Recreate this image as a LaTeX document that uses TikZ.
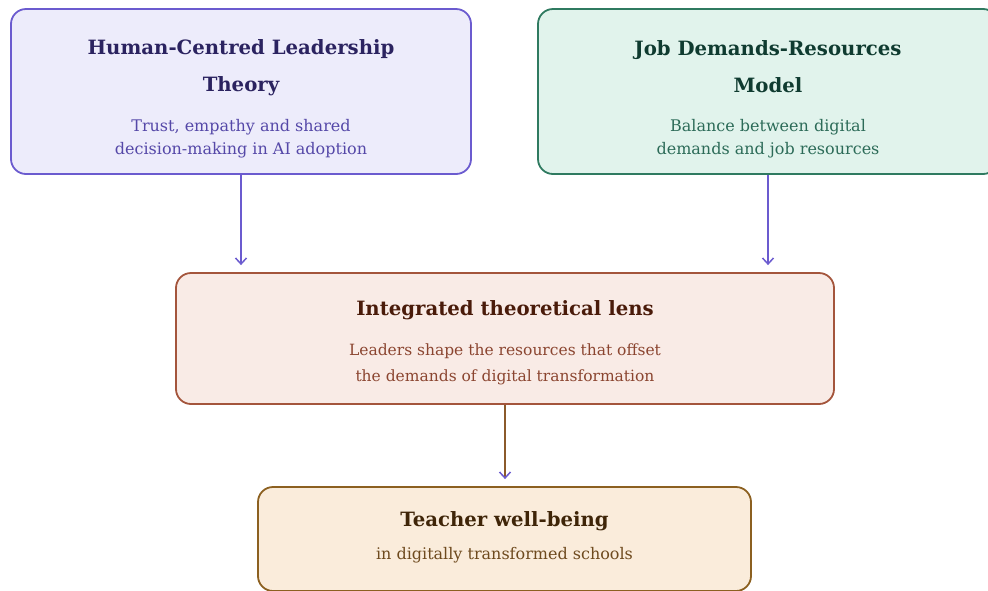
\documentclass[tikz,border=0pt]{standalone}
\usepackage{fontspec}
\setmainfont{DejaVu Serif}
\usetikzlibrary{arrows.meta}
\definecolor{hcBorder}{HTML}{6B5BCF}
\definecolor{hcFill}{HTML}{EDECFB}
\definecolor{hcTitle}{HTML}{2B2360}
\definecolor{hcSub}{HTML}{5548A8}
\definecolor{jdBorder}{HTML}{2F7A60}
\definecolor{jdFill}{HTML}{E1F3EC}
\definecolor{jdTitle}{HTML}{0F3B30}
\definecolor{jdSub}{HTML}{2C6B58}
\definecolor{ilBorder}{HTML}{A4553C}
\definecolor{ilFill}{HTML}{F9EBE6}
\definecolor{ilTitle}{HTML}{4A1B0A}
\definecolor{ilSub}{HTML}{8B4530}
\definecolor{twBorder}{HTML}{8C6020}
\definecolor{twFill}{HTML}{FAECDB}
\definecolor{twTitle}{HTML}{3F2508}
\definecolor{twSub}{HTML}{6E4A1E}
\definecolor{flowLine}{HTML}{8B5A2B}
\begin{document}
\begin{tikzpicture}[x=1pt,y=-1pt,
  box/.style={rectangle,rounded corners=15pt,line width=1.8pt,inner sep=0pt},
  ttl/.style={font=\bfseries\fontsize{19.7}{37}\selectfont,align=center,inner sep=0pt},
  sub/.style={font=\fontsize{16}{23}\selectfont,align=center,inner sep=0pt},
  flow/.style={line width=1.5pt,shorten >=7pt,
    -{Straight Barb[length=6pt,width=11pt,line width=1.5pt,color=hcBorder]}}
]
\useasboundingbox (0,0) rectangle (988,590);

% theory boxes
\node[box,draw=hcBorder,fill=hcFill,minimum width=460pt,minimum height=165pt] (hcl) at (241,91.5) {};
\node[ttl,text=hcTitle] (hclT) at (241,67.5) {Human-Centred Leadership\\Theory};
\node[sub,text=hcSub] (hclS) at (241,138.5) {Trust, empathy and shared\\decision-making in AI adoption};

\node[box,draw=jdBorder,fill=jdFill,minimum width=460pt,minimum height=165pt] (jdr) at (768,91.5) {};
\node[ttl,text=jdTitle] (jdrT) at (768,67) {Job Demands-Resources\\Model};
\node[sub,text=jdSub] (jdrS) at (768,138.5) {Balance between digital\\demands and job resources};

% integrated lens
\node[box,draw=ilBorder,fill=ilFill,minimum width=658pt,minimum height=131pt] (lens) at (505,338.5) {};
\node[ttl,text=ilTitle] (lensT) at (505,310) {Integrated theoretical lens};
\node[sub,text=ilSub,font=\fontsize{15.5}{26}\selectfont] (lensS) at (505,364) {Leaders shape the resources that offset\\the demands of digital transformation};

% outcome
\node[box,draw=twBorder,fill=twFill,minimum width=493pt,minimum height=104pt] (well) at (504.5,539) {};
\node[ttl,text=twTitle] (wellT) at (504.5,521) {Teacher well-being};
\node[sub,text=twSub] (wellS) at (504.5,555) {in digitally transformed schools};

% connectors
\draw[flow,draw=hcBorder] (hcl.south) -- (hcl.south |- lens.north);
\draw[flow,draw=hcBorder] (jdr.south) -- (jdr.south |- lens.north);
\draw[flow,draw=flowLine] (lens.south) -- (lens.south |- well.north);
\end{tikzpicture}
\end{document}
